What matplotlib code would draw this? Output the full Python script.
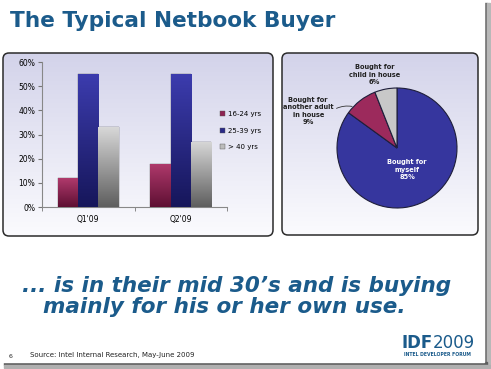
import numpy as np
import matplotlib.pyplot as plt
from matplotlib.patches import FancyBboxPatch, Rectangle
from matplotlib.colors import LinearSegmentedColormap

# bar chart data
quarters = ["Q1'09", "Q2'09"]
age_groups = ["16-24 yrs", "25-39 yrs", "> 40 yrs"]
share_16_24 = [12, 18]
share_25_39 = [55, 55]
share_over_40 = [33, 27]
y_ticks = [0, 10, 20, 30, 40, 50, 60]

# pie chart data
buyer_labels = ["Bought for\nmyself", "Bought for\nanother adult\nin house", "Bought for\nchild in house"]
buyer_share = [85, 9, 6]

W, H = 491, 369
BLUE_TXT = "#1b5b8b"

fig = plt.figure(figsize=(W / 100, H / 100), dpi=100)
fig.patch.set_facecolor("white")
bg = fig.add_axes([0, 0, 1, 1])
bg.axis("off")


def gradient(ax, patch, top, bottom, extent, zorder):
    cmap = LinearSegmentedColormap.from_list("g", [top, bottom])
    grad = np.linspace(0, 1, 256).reshape(-1, 1)
    im = ax.imshow(grad, cmap=cmap, extent=extent, aspect="auto",
                   origin="upper", zorder=zorder, interpolation="bilinear")
    im.set_clip_path(patch)


# slide shadow
bg.add_patch(Rectangle((484, 3), 3, 362, color="#6e6e6e", zorder=1))
bg.add_patch(Rectangle((487, 3), 3, 364, color="#b8b8b8", zorder=1))
bg.add_patch(Rectangle((4, 362), 483, 3, color="#5e5e5e", zorder=1))
bg.add_patch(Rectangle((4, 365), 486, 3, color="#b0b0b0", zorder=1))
bg.add_patch(Rectangle((0, 0), 484, 362, color="white", zorder=2))

# panels
for x0, y0, w, h in [(3, 53, 270, 183), (282, 53, 196, 182)]:
    p = FancyBboxPatch((x0, y0), w, h, boxstyle="round,pad=0,rounding_size=6",
                       facecolor="none", edgecolor="#2b2b2b", lw=1.1, zorder=4)
    bg.add_patch(p)
    gradient(bg, p, "#d3d3ea", "#fbfbfe", (x0, x0 + w, y0 + h, y0), 3)

bg.set_xlim(0, W)
bg.set_ylim(H, 0)

# titles and footer
bg.text(10, 21, "The Typical Netbook Buyer", fontsize=15.6, fontweight="bold",
        color=BLUE_TXT, va="center", ha="left", zorder=5)
bg.text(22, 292, "... is in their mid 30\u2019s and is buying", fontsize=15.5,
        fontweight="bold", fontstyle="italic", color=BLUE_TXT, va="baseline", zorder=5)
bg.text(43, 313, "mainly for his or her own use.", fontsize=15.5,
        fontweight="bold", fontstyle="italic", color=BLUE_TXT, va="baseline", zorder=5)
bg.text(30, 355, "Source: Intel Internal Research, May-June 2009", fontsize=5,
        color="#222222", va="center", zorder=5)
bg.text(9, 356, "6", fontsize=4.5, color="#222222", va="center", zorder=5)
t = bg.text(402, 348, "IDF", fontsize=12, fontweight="bold", color=BLUE_TXT,
            va="baseline", zorder=5)
bg.annotate("2009", xycoords=t, xy=(1, 0), va="bottom", fontsize=12,
            color=BLUE_TXT, zorder=5)
bg.text(437, 355, "INTEL DEVELOPER FORUM", fontsize=3.3, color=BLUE_TXT,
        ha="center", va="center", fontweight="bold", zorder=5)

# bar chart
ax = fig.add_axes([42 / W, 1 - 207 / H, 185 / W, 145 / H])
ax.patch.set_alpha(0)
x = np.arange(len(quarters))
bw = 0.22
series = [share_16_24, share_25_39, share_over_40]
colors = [("#b03a6c", "#5e0f33"), ("#3c3cae", "#16165a"), ("#d8d8d8", "#5e5e5e")]
mids = ["#8e2352", "#2a2a88", "#bcbcbc"]
for i, (vals, lab) in enumerate(zip(series, age_groups)):
    bars = ax.bar(x + (i - 1) * bw, vals, bw, color=mids[i], label=lab,
                  edgecolor="#555555", linewidth=0.3, zorder=2)
    for b in bars:
        x0, w, h = b.get_x(), b.get_width(), b.get_height()
        gradient(ax, b, colors[i][0], colors[i][1], (x0, x0 + w, 0, h), 3)
ax.set_xlim(-0.5, 1.5)
ax.set_ylim(0, 60)
ax.set_yticks(y_ticks)
ax.set_yticklabels([f"{v}%" for v in y_ticks])
ax.set_xticks(x)
ax.set_xticklabels(quarters)
ax.set_xticks([-0.5, 0.5, 1.5], minor=True)
ax.tick_params(axis="x", which="major", length=0, labelsize=5.5, pad=6)
ax.tick_params(axis="x", which="minor", length=3, color="#777777")
ax.tick_params(axis="y", length=3, labelsize=5.5, color="#777777", pad=2)
for s in ["top", "right"]:
    ax.spines[s].set_visible(False)
for s in ["left", "bottom"]:
    ax.spines[s].set_color("#888888")
    ax.spines[s].set_linewidth(0.8)
ax.legend(loc="upper left", bbox_to_anchor=(214 / W, 1 - 105 / H),
          bbox_transform=fig.transFigure, frameon=False, fontsize=5,
          handlelength=0.7, handleheight=0.7, handletextpad=0.4,
          labelspacing=1.5)

# pie chart
pax = fig.add_axes([(397 - 60) / W, 1 - 208 / H, 120 / W, 120 / H])
wedges, _ = pax.pie(buyer_share, colors=["#36369e", "#9c2a5c", "#c8c8c8"],
                    startangle=90, counterclock=False,
                    wedgeprops=dict(edgecolor="#1e1e3a", linewidth=0.8))
pax.set_aspect("equal")
pax.set_xlim(-1, 1)
pax.set_ylim(-1, 1)

lbl_pos = [(0.17, -0.36), (-1.48, 0.62), (-0.37, 1.22)]
lbl_col = ["white", "#222222", "#222222"]
for lab, v, pos, c in zip(buyer_labels, buyer_share, lbl_pos, lbl_col):
    pax.text(pos[0], pos[1], f"{lab}\n{v}%", ha="center", va="center",
             fontsize=4.8, fontweight="bold", color=c, linespacing=1.3,
             clip_on=False)

# leader line to the small red wedge
w = wedges[1]
ang = np.deg2rad((w.theta1 + w.theta2) / 2 + 8)
pax.annotate("", xy=(np.cos(ang) * 0.98, np.sin(ang) * 0.98), xytext=(-1.05, 0.64),
             arrowprops=dict(arrowstyle="-", color="#333333", lw=0.6,
                             connectionstyle="arc3,rad=-0.2"))

fig.savefig("out.png", dpi=100)
